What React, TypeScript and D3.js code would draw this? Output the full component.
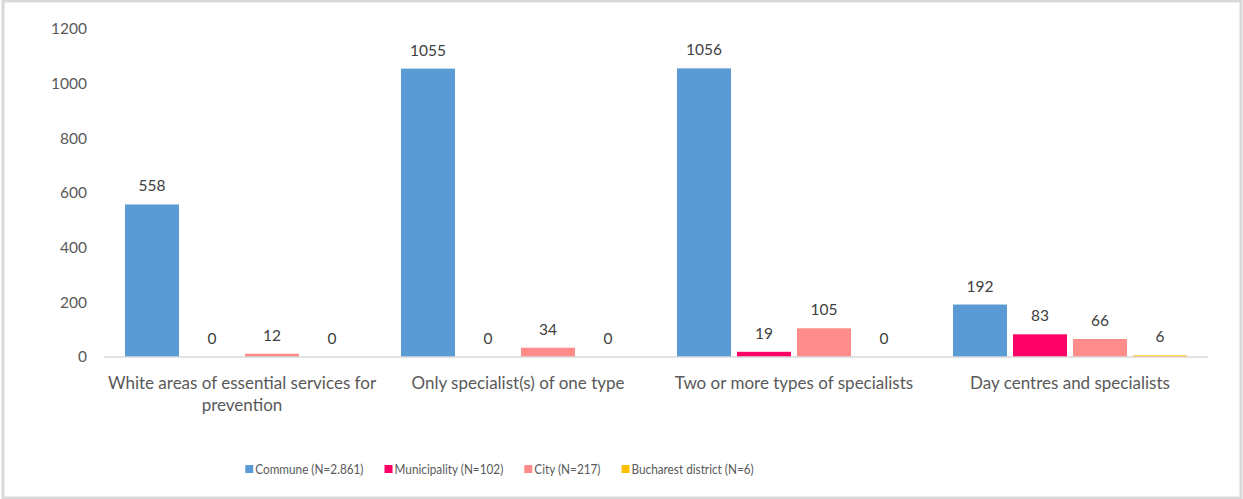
import React, { useEffect, useRef } from 'react';
import * as d3 from 'd3';

const categories = [
  ['White areas of essential services for', 'prevention'],
  ['Only specialist(s) of one type'],
  ['Two or more types of specialists'],
  ['Day centres and specialists'],
];
const seriesNames = ['Commune (N=2.861)', 'Municipality (N=102)', 'City (N=217)', 'Bucharest district (N=6)'];
const seriesColors = ['#5B9BD5', '#FF0066', '#FF8B8B', '#FFC000'];
const commune = [558, 1055, 1056, 192];
const municipality = [0, 0, 19, 83];
const city = [12, 34, 105, 66];
const bucharest = [0, 0, 0, 6];
const yTicks = [0, 200, 400, 600, 800, 1000, 1200];

const W = 1243;
const H = 499;
const FONT = 'Lato, "Open Sans", sans-serif';

const App: React.FC = () => {
  const svgRef = useRef<SVGSVGElement>(null);

  useEffect(() => {
    if (!svgRef.current) return;
    const svg = d3.select(svgRef.current);
    svg.selectAll('*').remove();

    const margin = { top: 29, right: 35, bottom: 142, left: 104 };
    const series = [commune, municipality, city, bucharest];

    // outer frame
    svg.append('rect')
      .attr('x', 3).attr('y', 1).attr('width', W - 5).attr('height', H - 2)
      .attr('fill', '#fff').attr('stroke', '#d9d9d9').attr('stroke-width', 3);

    const x0 = d3.scaleBand<number>()
      .domain(d3.range(categories.length))
      .range([margin.left, W - margin.right]);
    const x1 = d3.scaleBand<number>()
      .domain(d3.range(series.length))
      .range([0, x0.bandwidth()])
      .paddingInner(0.1)
      .paddingOuter(0.35);
    const y = d3.scaleLinear()
      .domain([0, 1200])
      .range([H - margin.bottom, margin.top]);

    // y ticks
    svg.append('g')
      .selectAll('text')
      .data(yTicks)
      .join('text')
      .attr('x', 87)
      .attr('y', d => y(d))
      .attr('dy', '0.35em')
      .attr('text-anchor', 'end')
      .attr('font-family', FONT)
      .attr('font-size', 15.5)
      .attr('fill', '#595959')
      .text(d => d);

    // bars
    const groups = svg.append('g')
      .selectAll('g')
      .data(categories.map((_, i) => i))
      .join('g')
      .attr('transform', i => `translate(${x0(i)},0)`);

    series.forEach((vals, s) => {
      groups.append('rect')
        .attr('x', x1(s)!)
        .attr('y', i => y(vals[i]))
        .attr('width', x1.bandwidth())
        .attr('height', i => y(0) - y(vals[i]))
        .attr('fill', seriesColors[s]);
      groups.append('text')
        .attr('x', x1(s)! + x1.bandwidth() / 2)
        .attr('y', i => y(vals[i]) - 13)
        .attr('text-anchor', 'middle')
        .attr('font-family', FONT)
        .attr('font-size', 15.5)
        .attr('fill', '#404040')
        .text(i => vals[i]);
    });

    // x axis line
    svg.append('line')
      .attr('x1', margin.left).attr('x2', W - margin.right)
      .attr('y1', y(0)).attr('y2', y(0))
      .attr('stroke', '#d9d9d9').attr('stroke-width', 1.5);

    // category labels
    categories.forEach((lines, i) => {
      const t = svg.append('text')
        .attr('text-anchor', 'middle')
        .attr('font-family', FONT)
        .attr('font-size', 17)
        .attr('fill', '#595959');
      lines.forEach((ln, j) => {
        t.append('tspan')
          .attr('x', x0(i)! + x0.bandwidth() / 2)
          .attr('y', 389 + j * 22)
          .text(ln);
      });
    });

    // legend (narrowed a bit to mimic Calibri)
    const legend = svg.append('g');
    let cx = 0;
    seriesNames.forEach((name, s) => {
      const g = legend.append('g').attr('transform', `translate(${cx},0)`);
      g.append('rect').attr('x', 0).attr('y', -4).attr('width', 8).attr('height', 8)
        .attr('fill', seriesColors[s]);
      const t = g.append('text')
        .attr('x', 10).attr('y', 0).attr('dy', '0.35em')
        .attr('font-family', FONT).attr('font-size', 14).attr('fill', '#595959')
        .text(name);
      const w = (t.node() as SVGTextElement).getComputedTextLength() * 0.84;
      t.attr('textLength', w).attr('lengthAdjust', 'spacingAndGlyphs');
      cx += 10 + w + 21;
    });
    const total = cx - 21;
    legend.attr('transform', `translate(${499.5 - total / 2},469)`);
  }, []);

  return (
    <svg
      ref={svgRef}
      width={W}
      height={H}
      style={{ position: 'absolute', left: 0, top: 0, background: '#fff' }}
    />
  );
};

export default App;
